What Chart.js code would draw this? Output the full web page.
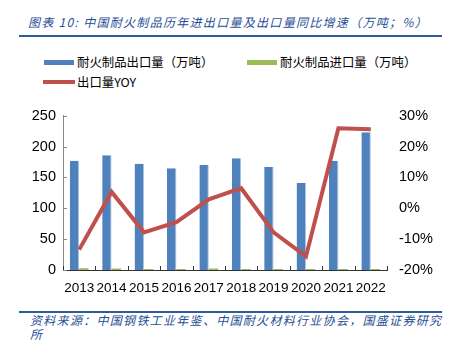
<!DOCTYPE html>
<html><head><meta charset="utf-8">
<script src="https://cdn.jsdelivr.net/npm/chart.js@4/dist/chart.umd.min.js"></script>
<style>
html,body{margin:0;padding:0;background:#fff;width:456px;height:342px;overflow:hidden;font-family:"Liberation Sans","Noto Sans CJK SC",sans-serif;}
#title{position:absolute;left:28px;top:13px;font-size:12px;font-style:italic;color:#1F4E96;letter-spacing:1.3px;white-space:nowrap;font-family:"Noto Sans CJK SC",sans-serif;}
#tline{position:absolute;left:19px;top:35px;width:423px;height:2px;background:#2E5C9A;}
#bline{position:absolute;left:19px;top:311px;width:423px;height:2px;background:#2E5C9A;}
#src{position:absolute;left:30px;top:313px;font-size:12px;line-height:14px;font-style:italic;color:#1F4E96;letter-spacing:1.3px;white-space:nowrap;font-family:"Noto Sans CJK SC",sans-serif;}
.lg{position:absolute;font-size:12.4px;color:#000;white-space:nowrap;font-family:"Noto Sans CJK SC",sans-serif;line-height:16px;}
.sw{position:absolute;}
#wrap{position:absolute;left:0;top:95px;width:456px;height:210px;}
</style></head>
<body>
<div id="title">图表 10:  中国耐火制品历年进出口量及出口量同比增速（万吨；%）</div>
<div id="tline"></div>
<div class="sw" style="left:44px;top:60px;width:30px;height:5px;background:#4F81BD"></div>
<div class="lg" style="left:77px;top:54px">耐火制品出口量（万吨）</div>
<div class="sw" style="left:247px;top:60px;width:30px;height:5px;background:#9BBB59"></div>
<div class="lg" style="left:280px;top:54px">耐火制品进口量（万吨）</div>
<div class="sw" style="left:43px;top:80px;width:32px;height:4px;background:#C0504D"></div>
<div class="lg" style="left:77px;top:74px">出口量YOY</div>
<div id="wrap"><canvas id="c" width="456" height="210"></canvas></div>
<div id="bline"></div>
<div id="src">资料来源：中国钢铁工业年鉴、中国耐火材料行业协会，国盛证券研究<br>所</div>
<script>
const years = ["2013","2014","2015","2016","2017","2018","2019","2020","2021","2022"];
const exportVol = [177,186,172,165,170,181,167,141,177,223];
const importVol = [3,2.5,1.5,1.5,2.5,1.5,1.5,1.5,1.5,1.5];
const exportYoY = [-13.4,5.3,-7.8,-4.5,2.9,6.5,-7.8,-15.6,25.9,25.6];
const leftTicks = [0,50,100,150,200,250];
const rightTicks = [-20,-10,0,10,20,30];

const innerTicks = {
  id:'innerTicks',
  afterDatasetsDraw(chart){
    const ctx = chart.ctx, x = chart.scales.x, y = chart.scales.y;
    ctx.save();
    ctx.strokeStyle = '#333'; ctx.lineWidth = 1;
    const n = years.length, w = (x.right - x.left)/n;
    for(let i=0;i<=n;i++){
      const px = Math.round(x.left + i*w)+0.5;
      ctx.beginPath(); ctx.moveTo(px, x.top); ctx.lineTo(px, x.top-4); ctx.stroke();
    }
    ctx.strokeStyle = '#888';
    y.ticks.forEach((t,i)=>{
      const py = Math.round(y.getPixelForTick(i))+0.5;
      ctx.beginPath(); ctx.moveTo(y.right, py); ctx.lineTo(y.right+4, py); ctx.stroke();
    });
    ctx.restore();
  }
};

new Chart(document.getElementById('c'), {
  data:{
    labels: years,
    datasets:[
      {type:'line', label:'出口量YOY', data: exportYoY, yAxisID:'y1', borderColor:'#C0504D', backgroundColor:'#C0504D', borderWidth:4, pointRadius:0, tension:0, order:0},
      {type:'bar', label:'耐火制品出口量（万吨）', data: exportVol, yAxisID:'y', backgroundColor:'#4F81BD', borderColor:'#A9C3E3', borderWidth:{right:1,left:0,top:0,bottom:0}, borderSkipped:false, categoryPercentage:0.58, barPercentage:1.0, order:1},
      {type:'bar', label:'耐火制品进口量（万吨）', data: importVol, yAxisID:'y', backgroundColor:'#9BBB59', categoryPercentage:0.58, barPercentage:1.0, order:2}
    ]
  },
  options:{
    responsive:false, animation:false,
    layout:{padding:{top:12,bottom:0,left:0,right:0}},
    plugins:{legend:{display:false}, tooltip:{enabled:false}},
    scales:{
      x:{
        grid:{display:false, drawTicks:false},
        border:{display:true, color:'#333', width:1},
        ticks:{color:'#000', font:{size:13.5, family:'"Liberation Sans", sans-serif'}, padding:10, maxRotation:0, autoSkip:false},
        afterFit(s){ s.height = 35; }
      },
      y:{
        position:'left', min:0, max:250,
        afterBuildTicks(s){ s.ticks = leftTicks.map(v=>({value:v})); },
        grid:{display:false, drawTicks:false},
        border:{display:true, color:'#888', width:1},
        ticks:{color:'#000', font:{size:14.5, family:'"Liberation Sans", sans-serif'}, padding:7},
        afterFit(s){ s.width = 63; }
      },
      y1:{
        position:'right', min:-20, max:30,
        afterBuildTicks(s){ s.ticks = rightTicks.map(v=>({value:v})); },
        grid:{display:false, drawTicks:false},
        border:{display:false},
        ticks:{color:'#000', font:{size:14.5, family:'"Liberation Sans", sans-serif'}, padding:12, callback:v=>v+'%'},
        afterFit(s){ s.width = 69; }
      }
    }
  },
  plugins:[innerTicks]
});
</script>
</body></html>
